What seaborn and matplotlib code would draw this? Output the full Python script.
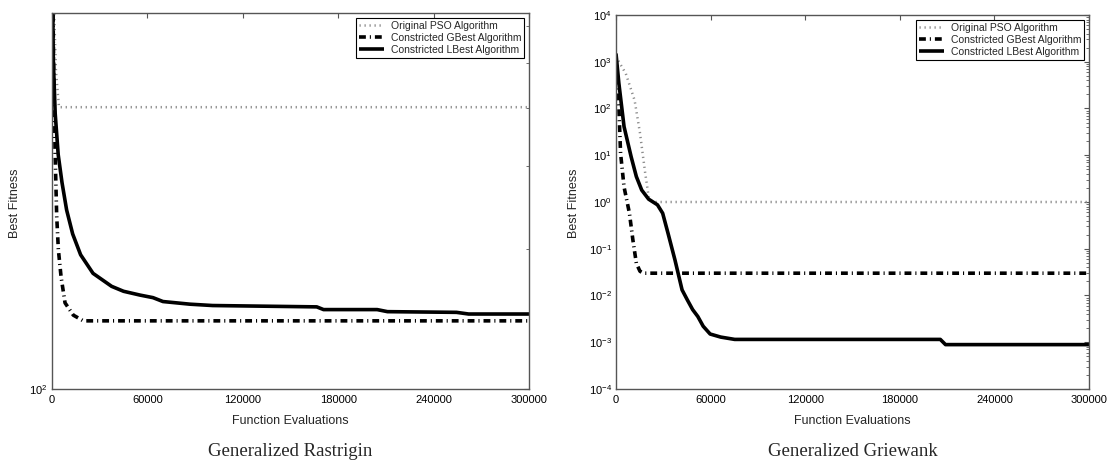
import numpy as np
import pandas as pd
import matplotlib
matplotlib.use("Agg")
import matplotlib.pyplot as plt
import matplotlib.ticker as mticker
import seaborn as sns

# ---------------- data ----------------
series_names = ["Original PSO Algorithm", "Constricted GBest Algorithm", "Constricted LBest Algorithm"]
x_ticks = [0, 60000, 120000, 180000, 240000, 300000]

# Generalized Rastrigin
ras_pso_x = [0, 1000, 2500, 4400, 300000]
ras_pso_y = [1000, 700, 480, 402, 402]
ras_gb_x = [0, 1000, 1900, 2950, 4000, 5700, 8200, 13400, 19700, 300000]
ras_gb_y = [1000, 500, 326, 235, 199, 174, 153, 144, 140, 140]
ras_lb_x = [0, 400, 820, 2000, 3900, 6300, 9200, 13000, 18000, 25800, 37500, 45000, 55300,
            63500, 69800, 86800, 101000, 166500, 170800, 204500, 211000, 254400, 262000, 300000]
ras_lb_y = [1200, 700, 507, 390, 318, 277, 242, 215, 194, 177, 166, 162, 159,
            157, 154, 152, 151, 150, 148, 148, 146.5, 146, 144.8, 144.8]

# Generalized Griewank
gri_pso_x = [0, 1000, 6200, 11800, 15200, 18500, 20700, 23000, 300000]
gri_pso_y = [1300, 1120, 560, 150, 30, 4.2, 1.3, 1.0, 1.0]
gri_gb_x = [0, 1800, 2900, 5100, 8500, 10700, 12900, 15200, 17400, 300000]
gri_gb_y = [1000, 110, 11, 2.1, 0.58, 0.155, 0.049, 0.033, 0.030, 0.030]
gri_lb_x = [0, 1800, 5100, 9600, 12900, 16300, 20700, 26300, 29600, 33000, 37400, 41900,
            45200, 48600, 51900, 55300, 59700, 66400, 75300, 205700, 209000, 300000]
gri_lb_y = [1500, 350, 41, 9.3, 3.5, 1.8, 1.15, 0.87, 0.575, 0.214, 0.0575, 0.0132,
            0.0081, 0.0050, 0.00355, 0.0022, 0.0015, 0.00129, 0.00115, 0.00115, 0.00089, 0.00089]

titles = ["Generalized Rastrigin", "Generalized Griewank"]

# ---------------- style ----------------
sns.set_style("white")
plt.rcParams["font.family"] = ["Liberation Sans", "DejaVu Sans"]
plt.rcParams["mathtext.fontset"] = "custom"
plt.rcParams["mathtext.rm"] = "Liberation Sans"
plt.rcParams["mathtext.it"] = "Liberation Sans:italic"

fig = plt.figure(figsize=(11.07, 4.61), dpi=100)
ax1 = fig.add_axes([52 / 1107, 1 - 389 / 461, (529 - 52) / 1107, (389 - 13) / 461])
ax2 = fig.add_axes([616 / 1107, 1 - 389 / 461, (1089 - 616) / 1107, (389 - 15) / 461])

styles = [
    dict(color="#8c8c8c", lw=1.8, dashes=(0.5, 1.5)),
    dict(color="black", lw=2.6, dashes=(1.9, 1.1, 0.3, 1.1)),
    dict(color="black", lw=2.6, dashes=None),
]


def draw(ax, xs, ys):
    for name, x, y, st in zip(series_names, xs, ys, styles):
        df = pd.DataFrame({"x": x, "y": y})
        sns.lineplot(data=df, x="x", y="y", ax=ax, color=st["color"], lw=st["lw"],
                     label=name, sort=False, estimator=None)
        line = ax.get_lines()[-1]
        if st["dashes"] is not None:
            line.set_dashes(st["dashes"])
            line.set_dash_capstyle("butt")
        line.set_solid_capstyle("butt")


draw(ax1, [ras_pso_x, ras_gb_x, ras_lb_x], [ras_pso_y, ras_gb_y, ras_lb_y])
draw(ax2, [gri_pso_x, gri_gb_x, gri_lb_x], [gri_pso_y, gri_gb_y, gri_lb_y])

ax1.set_yscale("log")
ax1.set_ylim(100, 640)
ax2.set_yscale("log")
ax2.set_ylim(1e-4, 1e4)

for ax in (ax1, ax2):
    ax.set_xlim(0, 300000)
    ax.set_xticks(x_ticks)
    ax.xaxis.set_major_formatter(mticker.FuncFormatter(lambda v, p: f"{int(v)}"))
    ax.yaxis.set_major_locator(mticker.LogLocator(base=10, numticks=20))
    ax.yaxis.set_minor_locator(mticker.LogLocator(base=10, subs=np.arange(2, 10), numticks=20))
    ax.yaxis.set_minor_formatter(mticker.NullFormatter())
    ax.yaxis.set_major_formatter(mticker.LogFormatterSciNotation())
    for sp in ax.spines.values():
        sp.set_color("#555555")
        sp.set_linewidth(1.0)
    ax.tick_params(axis="both", which="both", direction="in", top=True, right=True,
                   colors="#555555", labelcolor="black", labelsize=8)
    ax.tick_params(axis="both", which="major", length=3.5, width=0.8)
    ax.tick_params(axis="both", which="minor", length=2, width=0.6)
    ax.tick_params(axis="x", pad=4)
    ax.tick_params(axis="y", pad=3)
    ax.set_xlabel("Function Evaluations", fontsize=9)
    ax.set_ylabel("Best Fitness", fontsize=9)
    leg = ax.legend(loc="upper right", fontsize=7.5, frameon=True, fancybox=False,
                    framealpha=1, edgecolor="black", borderaxespad=0.45, borderpad=0.3,
                    labelspacing=0.2, handlelength=2.4, handletextpad=0.6)
    leg.get_frame().set_linewidth(0.8)

ax1.xaxis.set_label_coords(0.5, -0.069)
ax2.xaxis.set_label_coords(0.5, -0.069)
ax1.yaxis.set_label_coords(-0.065, 0.495)
ax2.yaxis.set_label_coords(-0.076, 0.497)

for ax, t in zip((ax1, ax2), titles):
    ax.text(0.5, -0.144, t, transform=ax.transAxes, ha="center", va="top",
            fontsize=13.5, family="Liberation Serif")

fig.savefig("out.png", dpi=100, facecolor="white")
